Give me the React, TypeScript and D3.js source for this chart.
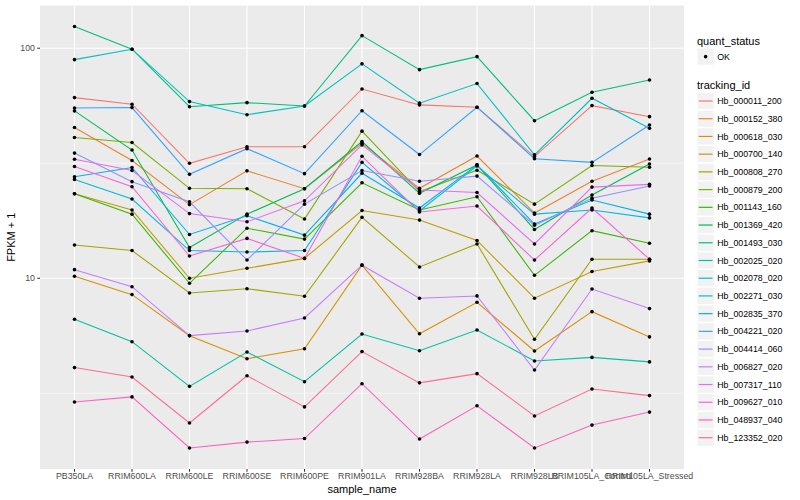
import React from "react";
import * as d3 from "d3";

const samples = ["PB350LA","RRIM600LA","RRIM600LE","RRIM600SE","RRIM600PE","RRIM901LA","RRIM928BA","RRIM928LA","RRIM928LB","RRIM105LA_Control","RRIM105LA_Stressed"];

const trackingIds = ["Hb_000011_200","Hb_000152_380","Hb_000618_030","Hb_000700_140","Hb_000808_270","Hb_000879_200","Hb_001143_160","Hb_001369_420","Hb_001493_030","Hb_002025_020","Hb_002078_020","Hb_002271_030","Hb_002835_370","Hb_004221_020","Hb_004414_060","Hb_006827_020","Hb_007317_110","Hb_009627_010","Hb_048937_040","Hb_123352_020"];

const hb000011 = [61.0, 57.1, 31.6, 37.3, 37.3, 66.5, 56.7, 55.4, 33.8, 56.3, 50.4];
const hb000152 = [45.2, 32.5, 20.9, 29.3, 24.5, 38.6, 24.6, 34.0, 19.2, 26.4, 33.0];
const hb000618 = [10.2, 8.49, 5.63, 4.47, 4.94, 11.4, 5.74, 7.86, 4.83, 7.16, 5.56];
const hb000700 = [23.3, 19.8, 10.0, 11.05, 12.2, 19.7, 17.9, 14.6, 8.19, 10.7, 11.9];
const hb000808 = [13.96, 13.2, 8.63, 9.01, 8.35, 18.4, 11.2, 14.1, 5.43, 12.1, 12.1];
const hb000879 = [40.9, 38.9, 24.6, 24.5, 18.1, 43.6, 23.8, 29.5, 21.0, 30.9, 30.4];
const hb001143 = [23.3, 19.0, 9.51, 16.5, 14.8, 26.0, 19.8, 22.6, 10.3, 16.1, 14.2];
const hb001369 = [53.4, 36.1, 13.6, 19.0, 24.5, 39.3, 23.4, 31.1, 16.3, 23.0, 31.4];
const hb001493 = [124.2, 99.0, 55.7, 58.0, 56.1, 113.4, 80.7, 91.9, 48.4, 64.4, 72.8];
const hb002025 = [6.63, 5.30, 3.39, 4.78, 3.55, 5.72, 4.84, 5.96, 4.37, 4.53, 4.33];
const hb002078 = [89.2, 99.0, 58.6, 51.4, 56.1, 85.5, 57.7, 70.2, 34.4, 60.6, 44.9];
const hb002271 = [26.9, 22.1, 13.2, 13.0, 13.2, 31.9, 19.6, 30.8, 19.0, 19.8, 18.3];
const hb002835 = [27.6, 30.3, 15.5, 18.7, 15.4, 28.6, 20.2, 31.1, 17.2, 21.9, 19.0];
const hb004221 = [55.0, 55.2, 28.3, 36.6, 28.5, 53.5, 34.5, 55.4, 33.1, 31.9, 46.4];
const hb004414 = [35.0, 26.3, 21.5, 12.0, 21.0, 29.4, 26.4, 27.8, 17.0, 22.3, 25.2];
const hb006827 = [10.9, 9.19, 5.63, 5.90, 6.72, 11.4, 8.19, 8.38, 3.99, 8.98, 7.38];
const hb007317 = [32.9, 29.4, 19.1, 17.6, 21.7, 38.0, 24.2, 23.6, 14.1, 24.9, 25.6];
const hb009627 = [30.6, 25.0, 12.5, 14.9, 12.2, 33.9, 19.4, 20.6, 12.0, 20.2, 12.1];
const hb048937 = [2.90, 3.05, 1.83, 1.94, 2.01, 3.48, 2.00, 2.79, 1.83, 2.30, 2.62];
const hb123352 = [4.09, 3.72, 2.35, 3.77, 2.76, 4.80, 3.51, 3.85, 2.52, 3.30, 3.09];

const seriesValues = [hb000011, hb000152, hb000618, hb000700, hb000808, hb000879, hb001143, hb001369, hb001493, hb002025, hb002078, hb002271, hb002835, hb004221, hb004414, hb006827, hb007317, hb009627, hb048937, hb123352];

const palette = ["#F8766D","#EA8331","#D89000","#C09B00","#A3A500","#7CAE00","#39B600","#00BB4E","#00BF7D","#00C1A3","#00BFC4","#00BAE0","#00B0F6","#35A2FF","#9590FF","#C77CFF","#E76BF3","#FA62DB","#FF62BC","#FF6C91"];

const yTicks = [10, 100];
const yMinor = [Math.sqrt(10), Math.sqrt(1000)];

const FONT = "'Liberation Sans', Arial, Helvetica, sans-serif";

export default function App() {
  const W = 800, H = 500;
  const px0 = 40, px1 = 684, py0 = 5.5, py1 = 469;

  const all = seriesValues.flat();
  const lmin = Math.log10(d3.min(all) as number);
  const lmax = Math.log10(d3.max(all) as number);
  const pad = (lmax - lmin) * 0.05;

  const x = d3.scalePoint<string>().domain(samples).range([px0, px1]).padding(0.6);
  const y = d3.scaleLog().domain([Math.pow(10, lmin - pad), Math.pow(10, lmax + pad)]).range([py1, py0]);

  const line = d3.line<number>().x((_, i) => x(samples[i]) as number).y((v) => y(v));

  const legX = 697;
  const keyW = 17.28;
  const entry0 = 101;
  const step = 17.72;

  return (
    <div style={{ position: "absolute", left: 0, top: 0 }}>
      <svg width={W} height={H} style={{ display: "block", background: "#fff" }} fontFamily={FONT}>
        <rect x={px0} y={py0} width={px1 - px0} height={py1 - py0} fill="#EBEBEB" />
        {yMinor.map((v, i) => (
          <line key={"ym" + i} x1={px0} x2={px1} y1={y(v)} y2={y(v)} stroke="#fff" strokeWidth={0.53} />
        ))}
        {yTicks.map((v, i) => (
          <line key={"yg" + i} x1={px0} x2={px1} y1={y(v)} y2={y(v)} stroke="#fff" strokeWidth={1.07} />
        ))}
        {samples.map((s) => (
          <line key={"xg" + s} x1={x(s)} x2={x(s)} y1={py0} y2={py1} stroke="#fff" strokeWidth={1.07} />
        ))}
        {seriesValues.map((vals, i) => (
          <path key={"l" + i} d={line(vals) || ""} fill="none" stroke={palette[i]} strokeWidth={1.07} />
        ))}
        {seriesValues.map((vals, i) => (
          <g key={"p" + i}>
            {vals.map((v, j) => (
              <circle key={j} cx={x(samples[j])} cy={y(v)} r={1.8} fill="#000" />
            ))}
          </g>
        ))}
        {yTicks.map((v, i) => (
          <g key={"yt" + i}>
            <line x1={px0 - 2.75} x2={px0} y1={y(v)} y2={y(v)} stroke="#333" strokeWidth={1.07} />
            <text x={px0 - 5} y={y(v)} dy="0.35em" textAnchor="end" fontSize={8.8} fill="#4D4D4D">{v}</text>
          </g>
        ))}
        <text transform={`translate(15,${(py0 + py1) / 2}) rotate(-90)`} textAnchor="middle" fontSize={11} fill="#000">FPKM + 1</text>
        {samples.map((s) => (
          <g key={"xt" + s}>
            <line x1={x(s)} x2={x(s)} y1={py1} y2={py1 + 2.75} stroke="#333" strokeWidth={1.07} />
            <text x={x(s)} y={py1 + 4} dy="0.72em" textAnchor="middle" fontSize={8.8} fill="#4D4D4D">{s}</text>
          </g>
        ))}
        <text x={(px0 + px1) / 2} y={492.5} textAnchor="middle" fontSize={11} fill="#000">sample_name</text>
        <text x={legX} y={44.5} fontSize={11} fill="#000">quant_status</text>
        <rect x={legX} y={48} width={keyW} height={keyW} fill="#F2F2F2" stroke="#fff" />
        <circle cx={legX + keyW / 2} cy={48 + keyW / 2} r={1.8} fill="#000" />
        <text x={legX + keyW + 3} y={48 + keyW / 2} dy="0.35em" fontSize={8.8} fill="#000">OK</text>
        <text x={legX} y={89} fontSize={11} fill="#000">tracking_id</text>
        {trackingIds.map((id, i) => {
          const cy = entry0 + i * step;
          return (
            <g key={"lg" + id}>
              <rect x={legX} y={cy - keyW / 2} width={keyW} height={keyW} fill="#F2F2F2" stroke="#fff" />
              <line x1={legX + 1.7} x2={legX + keyW - 1.7} y1={cy} y2={cy} stroke={palette[i]} strokeWidth={1.2} />
              <text x={legX + keyW + 3} y={cy} dy="0.35em" fontSize={8.8} fill="#000">{id}</text>
            </g>
          );
        })}
      </svg>
    </div>
  );
}
